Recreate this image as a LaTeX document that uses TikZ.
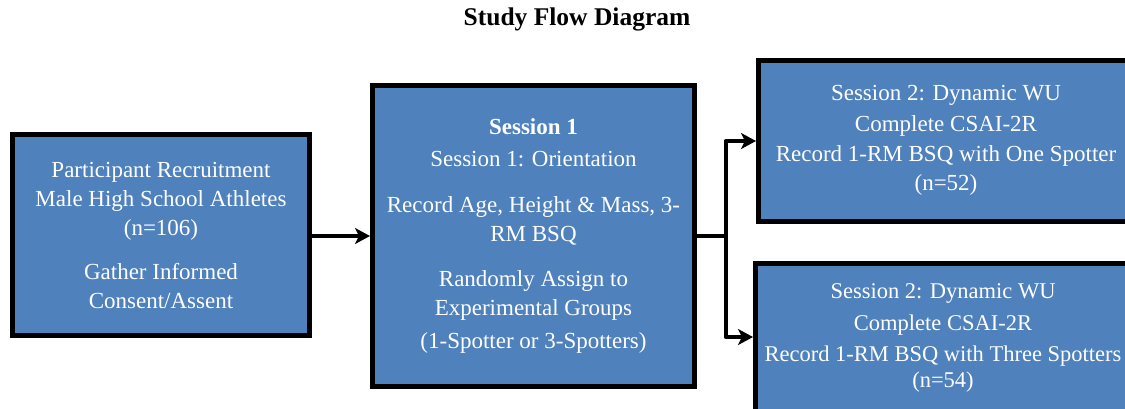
\documentclass[tikz,border=0pt]{standalone}
\usepackage{fontspec}
\setmainfont{Liberation Serif}
\usetikzlibrary{arrows.meta}
\definecolor{boxblue}{HTML}{4F81BD}
\tikzset{
  flowbox/.style={draw=black, line width=5pt, fill=boxblue, text=white,
    rectangle, align=center, inner sep=0pt,
    font=\fontsize{23}{29}\selectfont},
  conn/.style={draw=black, line width=4pt, line join=round},
  arr/.style={conn, -{Stealth[length=15pt,width=16pt,inset=4pt]}},
}
\begin{document}
\begin{tikzpicture}[x=1pt,y=-1pt]
\useasboundingbox (0,0) rectangle (1125,408);
\clip (0,0) rectangle (1125,408);
\fill[white] (0,0) rectangle (1125,408);
\node[font=\bfseries\fontsize{25.5}{28}\selectfont] (title) at (577,19) {Study Flow Diagram};
\node[flowbox, minimum width=297pt, minimum height=201pt] (b1) at (161,235)
  {Participant Recruitment\\Male High School Athletes\\(n=106)\\[15pt]Gather Informed\\Consent/Assent};
\node[flowbox, minimum width=322pt, minimum height=301pt] (b2) at (533.5,235.5)
  {\textbf{Session 1}\\[3pt]Session 1: Orientation\\[17pt]Record Age, Height \& Mass, 3-\\RM BSQ\\[16pt]Randomly Assign to\\Experimental Groups\\[4pt](1-Spotter or 3-Spotters)};
\node[flowbox, minimum width=375pt, minimum height=161pt] (b3) at (946,140.5)
  {Session 2: Dynamic WU\\[2pt]Complete CSAI-2R\\[1pt]Record 1-RM BSQ with One Spotter\\(n=52)};
\node[flowbox, minimum width=375pt, minimum height=150pt, font=\fontsize{22.5}{29}\selectfont] (b4) at (943,338)
  {Session 2: Dynamic WU\\[3pt]Complete CSAI-2R\\[2pt]Record 1-RM BSQ with Three Spotters\\[-3pt](n=54)};
\coordinate (j) at (725.5,236);
\draw[arr] (b1.east |- 0,236) -- (b2.west |- 0,236);
\draw[conn] (b2.east |- j) -- (j);
\draw[arr] (j) |- (b3.west |- 0,141);
\draw[arr] (j) |- (b4.west |- 0,337);
\end{tikzpicture}
\end{document}
